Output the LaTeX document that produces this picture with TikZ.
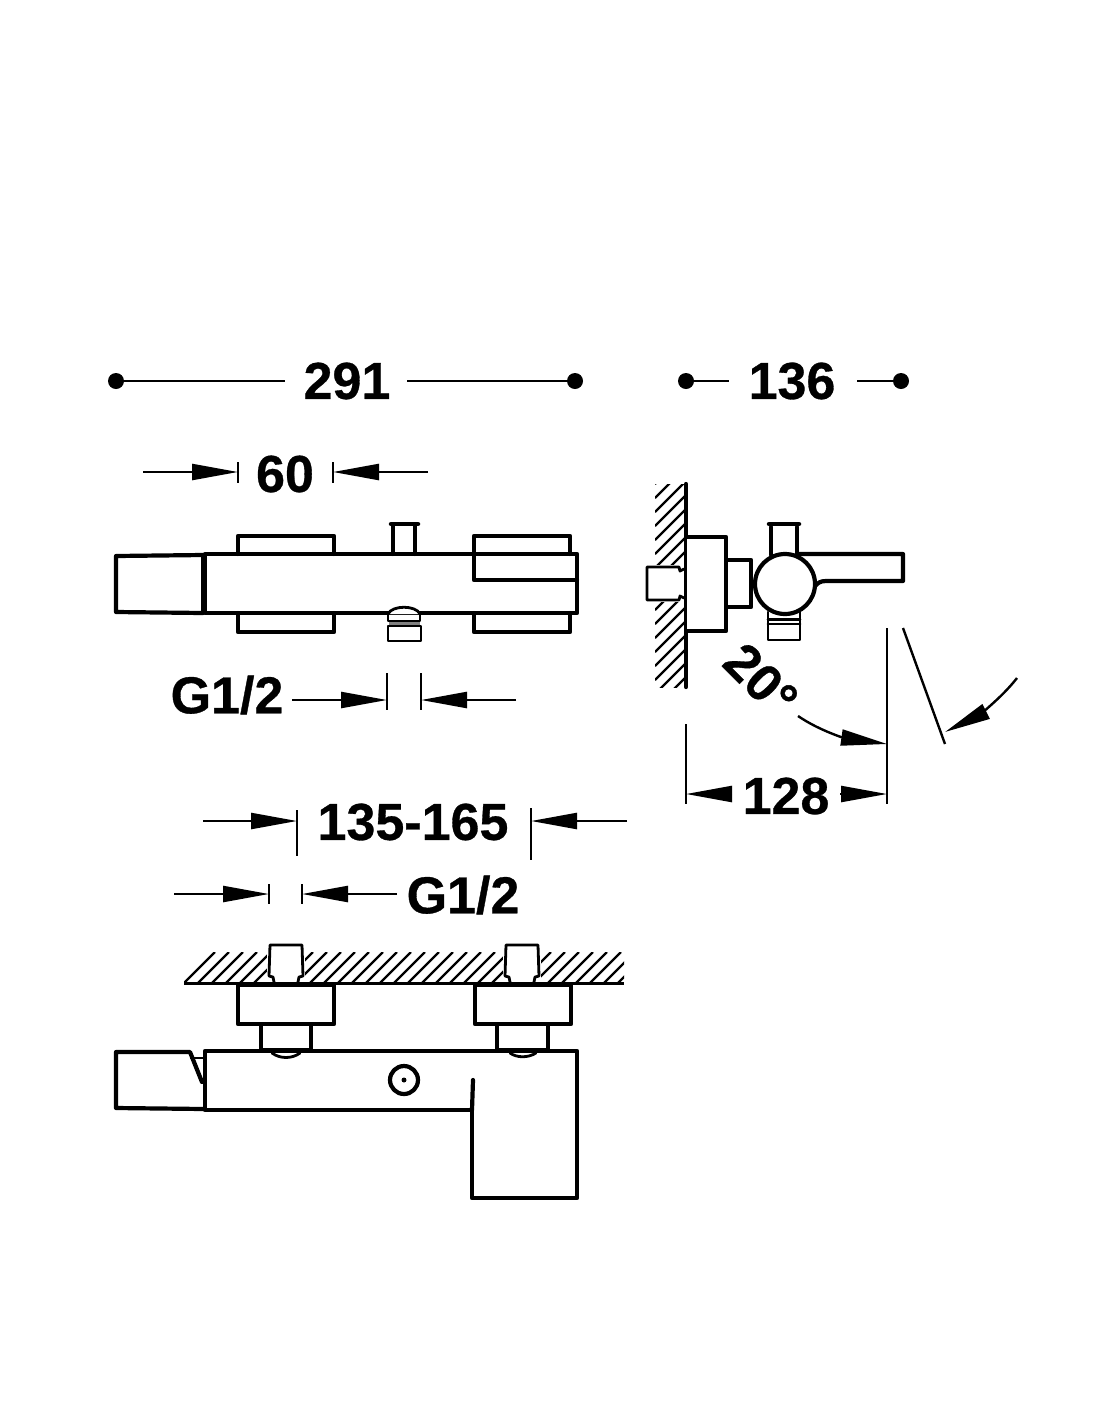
\documentclass[tikz,border=0pt]{standalone}
\usepackage{fontspec}
\setmainfont{Liberation Sans}
\usetikzlibrary{arrows.meta}
\tikzset{
	part/.style={line width=4.2pt,line join=round,line cap=round},
	slim/.style={line width=2.8pt,line join=round,line cap=round},
	dimline/.style={line width=2.4pt},
	dimarrow/.style={line width=2.4pt,-{Triangle[length=46pt,width=16pt]}},
	tick/.style={line width=2.4pt},
	hatch/.style={line width=2.2pt},
	dimtext/.style={inner sep=0pt,font=\fontsize{52}{52}\selectfont\addfontfeature{FakeBold=0.6}\bfseries},
	spot/.style={circle,fill=black,minimum size=16pt,inner sep=0pt}
}
\begin{document}
\begin{tikzpicture}[x=1pt,y=-1pt]
\useasboundingbox (0,0) rectangle (1100,1422);
% overall sizes
\node[spot] (a1) at (116,381) {};
\node[spot] (a2) at (575,381) {};
\node[dimtext] (t291) at (347,381) {291};
\draw[dimline] (a1) -- (285,381);
\draw[dimline] (407,381) -- (a2);
\node[spot] (b1) at (686,381) {};
\node[spot] (b2) at (901,381) {};
\node[dimtext] (t136) at (792,381) {136};
\draw[dimline] (b1) -- (729,381);
\draw[dimline] (857,381) -- (b2);
% front view sizes
\node[dimtext] (t60) at (285,474) {60};
\coordinate (c1) at (238,472);
\coordinate (c2) at (333,472);
\draw[dimarrow] (143,472) -- (c1);
\draw[dimarrow] (428,472) -- (c2);
\draw[tick] (238,462) -- (238,483) (333,462) -- (333,483);
\node[dimtext] (g1) at (227,695) {G1/2};
\coordinate (d1) at (387,700);
\coordinate (d2) at (421,700);
\draw[dimarrow] (292,700) -- (d1);
\draw[dimarrow] (516,700) -- (d2);
\draw[tick] (387,673) -- (387,710) (421,673) -- (421,710);
% top view sizes
\node[dimtext] (t135) at (413,822) {135-165};
\coordinate (e1) at (297,821);
\coordinate (e2) at (531,821);
\draw[dimarrow] (203,821) -- (e1);
\draw[dimarrow] (627,821) -- (e2);
\draw[tick] (297,810) -- (297,856) (531,808) -- (531,860);
\node[dimtext] (g2) at (463,895) {G1/2};
\coordinate (f1) at (269,894);
\coordinate (f2) at (302,894);
\draw[dimarrow] (174,894) -- (f1);
\draw[dimarrow] (397,894) -- (f2);
\draw[tick] (269,884) -- (269,904) (302,884) -- (302,904);
% side view sizes
\node[dimtext] (t128) at (786,796) {128};
\coordinate (h1) at (686,794);
\coordinate (h2) at (887,794);
\draw[dimarrow] (732,794) -- (h1);
\draw[dimarrow] (840,794) -- (h2);
\draw[tick] (686,724) -- (686,804) (887,628) -- (887,804);
\node[dimtext,rotate=-45] (t20) at (761,680) {20°};
\coordinate (k1) at (887,744);
\coordinate (k2) at (945,732);
\draw[dimarrow] (798,716) .. controls (820,731) and (845,738) .. (k1);
\draw[dimarrow] (1017,678) .. controls (1000,700) and (975,717) .. (k2);
\draw[tick] (903,628) -- (945,744);
% front view
\draw[part] (238,554) |- (334,536) -- (334,554);
\draw[part] (474,554) |- (570,536) -- (570,554);
\draw[part] (238,613) |- (334,632) -- (334,613);
\draw[part] (474,613) |- (570,632) -- (570,613);
\draw[part] (116,612) -- (116,556) -- (203,555) (116,612) -- (203,613);
\draw[part] (205,554) rectangle (577,613);
\draw[line width=6pt] (204,553) -- (204,614);
\draw[part] (577,580) -- (474,580) -- (474,554);
\draw[part] (393,554) -- (393,525) (415,554) -- (415,525);
\draw[line width=4.5pt,line cap=round] (391,524) -- (418,524);
\draw[slim,fill=white] (388,614) .. controls (392,605) and (416,605) .. (420,614);
\draw[slim] (388,614) -- (388,621) -- (420,621) -- (420,614);
\draw[slim] (388,626) rectangle (421,641);
\draw[line width=2.4pt,gray] (389,623.5) -- (420,623.5);
% side view
\begin{scope}
\clip (655,484) rectangle (686,687);
\foreach \i in {0,...,17} \draw[hatch] (655,484+14*\i) -- (686,453+14*\i);
\end{scope}
\draw[part] (686,484) -- (686,687);
\fill[white] (645,565) rectangle (684,602);
\draw[slim] (684,569) -- (680,571) -- (679,567) -- (647,567) -- (647,600) -- (679,600) -- (680,596) -- (684,598);
\draw[part,fill=white] (687,537) -| (726,631) -- (687,631);
\draw[part] (727,560) -| (751,607) -- (727,607);
\draw[part] (771,555) -- (771,527) (797,555) -- (797,527);
\draw[line width=4.5pt,line cap=round] (769,524) -- (799,524);
\draw[slim] (768,612) -- (768,640) -- (800,640) -- (800,612);
\draw[slim] (768,619.5) -- (800,619.5) (768,624) -- (800,624);
\draw[part] (797,554) -- (903,554) -- (903,581) -- (826,581) .. controls (820,581) and (818,583) .. (815,586);
\draw[part,fill=white] (785,584) circle (30);
% top view
\begin{scope}
\clip (184,952) rectangle (624,983);
\foreach \i in {0,...,32} \draw[hatch] (184+14*\i,983) -- (215+14*\i,952);
\end{scope}
\draw[line width=3pt] (184,983.5) -- (624,983.5);
\foreach \x in {269,505} {
	\fill[white] (\x-2,942) rectangle (\x+36,982);
	\draw[slim] (\x+5,982) -- (\x+4,977) -- (\x,976) -- (\x+1,945) -- (\x+33,945) -- (\x+34,976) -- (\x+30,977) -- (\x+29,982);
}
\draw[part,fill=white] (238,985) rectangle (334,1024);
\draw[part,fill=white] (475,985) rectangle (571,1024);
\draw[part] (261,1024) rectangle (311,1050);
\draw[part] (497,1024) rectangle (548,1050);
\draw[part] (116,1052) -- (190,1052) -- (202,1082) (116,1052) -- (116,1108) -- (204,1109);
\draw[line width=1.8pt] (190,1058) -- (204,1058);
\draw[part] (205,1110) -- (205,1051) -- (577,1051) -- (577,1198) -- (472,1198) -- (472,1110) -- cycle;
\draw[part] (472,1110) -- (473,1080);
\draw[slim] (272,1053) .. controls (280,1059) and (292,1059) .. (300,1053);
\draw[slim] (510,1053) .. controls (517,1058) and (528,1058) .. (536,1053);
\draw[part] (404,1080) circle (14);
\node[circle,fill=black,minimum size=5pt,inner sep=0pt] (hole) at (404,1080) {};
\end{tikzpicture}
\end{document}
